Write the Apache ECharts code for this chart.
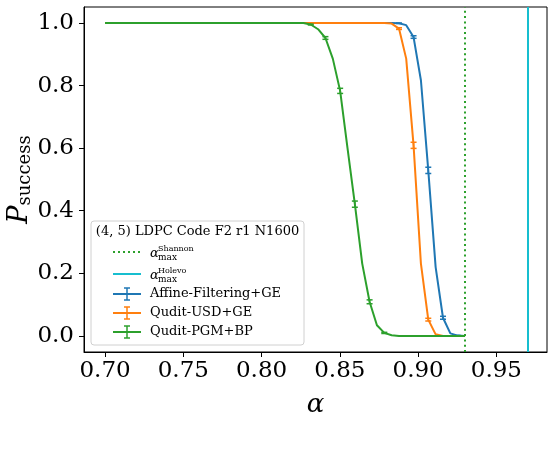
<!DOCTYPE html>
<html>
<head>
<meta charset="utf-8">
<script src="https://cdn.jsdelivr.net/npm/echarts@6/dist/echarts.min.js"></script>
<style>
    html, body { margin: 0; padding: 0; background: #fff; }
    #chart { width: 554px; height: 450px; }
</style>
</head>
<body>
<div id="chart"></div>
<script>
// alpha grid, 50 points from 0.70 to 0.93
const alpha = [
    0.7000, 0.7047, 0.7094, 0.7141, 0.7188, 0.7235, 0.7282, 0.7329, 0.7376, 0.7422,
    0.7469, 0.7516, 0.7563, 0.7610, 0.7657, 0.7704, 0.7751, 0.7798, 0.7845, 0.7892,
    0.7939, 0.7986, 0.8033, 0.8080, 0.8127, 0.8173, 0.8220, 0.8267, 0.8314, 0.8361,
    0.8408, 0.8455, 0.8502, 0.8549, 0.8596, 0.8643, 0.8690, 0.8737, 0.8784, 0.8831,
    0.8878, 0.8924, 0.8971, 0.9018, 0.9065, 0.9112, 0.9159, 0.9206, 0.9253, 0.9300
];
// success probability per decoder
const affineGE = [
    1, 1, 1, 1, 1, 1, 1, 1, 1, 1,
    1, 1, 1, 1, 1, 1, 1, 1, 1, 1,
    1, 1, 1, 1, 1, 1, 1, 1, 1, 1,
    1, 1, 1, 1, 1, 1, 1, 1, 1, 1,
    0.999, 0.993, 0.955, 0.817, 0.529, 0.220, 0.058, 0.008, 0.001, 0
];
const usdGE = [
    1, 1, 1, 1, 1, 1, 1, 1, 1, 1,
    1, 1, 1, 1, 1, 1, 1, 1, 1, 1,
    1, 1, 1, 1, 1, 1, 1, 1, 1, 1,
    1, 1, 1, 1, 1, 1, 1, 1, 1, 0.998,
    0.982, 0.886, 0.609, 0.231, 0.052, 0.005, 0, 0, 0, 0
];
const pgmBP = [
    1, 1, 1, 1, 1, 1, 1, 1, 1, 1,
    1, 1, 1, 1, 1, 1, 1, 1, 1, 1,
    1, 1, 1, 1, 1, 1, 1, 1, 0.995, 0.980,
    0.952, 0.886, 0.783, 0.600, 0.421, 0.231, 0.109, 0.034, 0.0096, 0.002,
    0, 0, 0, 0, 0, 0, 0, 0, 0, 0
];
// error bar half widths
const affineErr = [
    0, 0, 0, 0, 0, 0, 0, 0, 0, 0,
    0, 0, 0, 0, 0, 0, 0, 0, 0, 0,
    0, 0, 0, 0, 0, 0, 0, 0, 0, 0,
    0, 0, 0, 0, 0, 0, 0, 0, 0, 0,
    0.0006, 0, 0.0041, 0, 0.0100, 0, 0.0047, 0, 0.0006, 0
];
const usdErr = [
    0, 0, 0, 0, 0, 0, 0, 0, 0, 0,
    0, 0, 0, 0, 0, 0, 0, 0, 0, 0,
    0, 0, 0, 0, 0, 0, 0, 0, 0, 0,
    0, 0, 0, 0, 0, 0, 0, 0, 0, 0,
    0.0027, 0, 0.0098, 0, 0.0044, 0, 0, 0, 0, 0
];
const pgmErr = [
    0, 0, 0, 0, 0, 0, 0, 0, 0, 0,
    0, 0, 0, 0, 0, 0, 0, 0, 0, 0,
    0, 0, 0, 0, 0, 0, 0, 0, 0.0014, 0,
    0.0043, 0, 0.0082, 0, 0.0099, 0, 0.0062, 0, 0.0019, 0,
    0, 0, 0, 0, 0, 0, 0, 0, 0, 0
];
const shannonAlpha = 0.9287;
const holevoAlpha = 0.9689;
const xTicks = [0.70, 0.75, 0.80, 0.85, 0.90, 0.95];
const yTicks = [0.0, 0.2, 0.4, 0.6, 0.8, 1.0];

const FONT = 'DejaVu Serif';
const BLUE = '#1f77b4', ORANGE = '#ff7f0e', GREEN = '#2ca02c', CYAN = '#17becf';

function lineSeries (name, ys, color, z) {
    return {
        name: name,
        type: 'line',
        data: alpha.map((a, i) => [a, ys[i]]),
        showSymbol: false,
        lineStyle: { color: color, width: 2 },
        itemStyle: { color: color },
        z: z,
        silent: true
    };
}

// error bars on every other point
function errorSeries (ys, errs, color, z) {
    let data = [];
    alpha.forEach((a, i) => {
        if (i % 2 === 0 && errs[i] > 0) {
            data.push([a, ys[i] - errs[i], ys[i] + errs[i]]);
        }
    });
    return {
        type: 'custom',
        data: data,
        encode: { x: 0, y: [1, 2] },
        z: z,
        silent: true,
        renderItem: (params, api) => {
            let lo = api.coord([api.value(0), api.value(1)]);
            let hi = api.coord([api.value(0), api.value(2)]);
            let w = 3;
            let st = { stroke: color, lineWidth: 1.5 };
            return {
                type: 'group',
                children: [
                    { type: 'line', shape: { x1: lo[0], y1: lo[1], x2: hi[0], y2: hi[1] }, style: st },
                    { type: 'line', shape: { x1: lo[0] - w, y1: lo[1], x2: lo[0] + w, y2: lo[1] }, style: st },
                    { type: 'line', shape: { x1: hi[0] - w, y1: hi[1], x2: hi[0] + w, y2: hi[1] }, style: st }
                ]
            };
        }
    };
}

// legend drawn by hand (errorbar handles and stacked sub/superscripts)
function legendGraphics () {
    let els = [];
    let hx1 = 113, hx2 = 141, tx = 150;
    els.push({ type: 'rect', shape: { x: 91, y: 221, width: 213, height: 124, r: 3 },
        style: { fill: 'rgba(255,255,255,0.8)', stroke: '#d0d0d0', lineWidth: 1 } });
    els.push({ type: 'text', x: 197.5, y: 232,
        style: { text: '(4, 5) LDPC Code F2 r1 N1600', font: '13px "DejaVu Serif"', fill: '#000',
            align: 'center', verticalAlign: 'middle' } });
    let bounds = [
        { y: 252, sup: 'Shannon', color: GREEN, dash: [2, 3] },
        { y: 274, sup: 'Holevo', color: CYAN, dash: null }
    ];
    bounds.forEach((b) => {
        els.push({ type: 'line', shape: { x1: hx1, y1: b.y, x2: hx2, y2: b.y },
            style: { stroke: b.color, lineWidth: 2, lineDash: b.dash } });
        els.push({ type: 'text', x: tx, y: b.y + 2,
            style: { text: 'α', font: 'italic 13px "DejaVu Serif"', fill: '#000', verticalAlign: 'middle' } });
        els.push({ type: 'text', x: tx + 8, y: b.y - 3,
            style: { text: b.sup, font: '8px "DejaVu Serif"', fill: '#000', verticalAlign: 'middle' } });
        els.push({ type: 'text', x: tx + 8, y: b.y + 6,
            style: { text: 'max', font: '9px "DejaVu Serif"', fill: '#000', verticalAlign: 'middle' } });
    });
    let entries = [
        { y: 294, label: 'Affine-Filtering+GE', color: BLUE },
        { y: 313, label: 'Qudit-USD+GE', color: ORANGE },
        { y: 332, label: 'Qudit-PGM+BP', color: GREEN }
    ];
    entries.forEach((e) => {
        let cx = (hx1 + hx2) / 2;
        let st = { stroke: e.color, lineWidth: 2 };
        els.push({ type: 'line', shape: { x1: hx1, y1: e.y, x2: hx2, y2: e.y }, style: st });
        els.push({ type: 'line', shape: { x1: cx, y1: e.y - 6, x2: cx, y2: e.y + 6 }, style: { stroke: e.color, lineWidth: 1.5 } });
        els.push({ type: 'line', shape: { x1: cx - 3, y1: e.y - 6, x2: cx + 3, y2: e.y - 6 }, style: { stroke: e.color, lineWidth: 1.5 } });
        els.push({ type: 'line', shape: { x1: cx - 3, y1: e.y + 6, x2: cx + 3, y2: e.y + 6 }, style: { stroke: e.color, lineWidth: 1.5 } });
        els.push({ type: 'text', x: tx, y: e.y,
            style: { text: e.label, font: '13px "DejaVu Serif"', fill: '#000', verticalAlign: 'middle' } });
    });
    return els;
}

let myChart = echarts.init(document.getElementById('chart'), null, { renderer: 'canvas' });
myChart.setOption({
    animation: false,
    backgroundColor: '#fff',
    grid: {
        left: 84,
        right: 7,
        top: 7,
        bottom: 98,
        containLabel: false,
        outerBoundsMode: 'none',
        show: true,
        borderColor: '#000',
        borderWidth: 1,
        backgroundColor: 'transparent'
    },
    xAxis: {
        type: 'value',
        min: 0.68655,
        max: 0.98235,
        name: 'α',
        nameLocation: 'middle',
        nameGap: 40,
        nameMoveOverlap: false,
        nameTextStyle: { fontFamily: FONT, fontStyle: 'italic', fontSize: 26, color: '#000' },
        axisLine: { show: true, onZero: false, lineStyle: { color: '#000', width: 1 } },
        axisTick: { show: true, customValues: xTicks, length: 5, lineStyle: { color: '#000' } },
        axisLabel: {
            customValues: xTicks,
            formatter: (v) => v.toFixed(2),
            fontFamily: FONT,
            fontSize: 23,
            color: '#000',
            margin: 8
        },
        splitLine: { show: false }
    },
    yAxis: {
        type: 'value',
        min: -0.0514,
        max: 1.051,
        name: '{p|P}{s|success}',
        nameLocation: 'middle',
        nameRotate: 90,
        nameGap: 50,
        nameMoveOverlap: false,
        nameTextStyle: {
            color: '#000',
            rich: {
                p: { fontFamily: FONT, fontStyle: 'italic', fontSize: 27, lineHeight: 24, color: '#000', verticalAlign: 'bottom', padding: [0, 0, 1, 0] },
                s: { fontFamily: FONT, fontSize: 18, lineHeight: 18, color: '#000', verticalAlign: 'bottom' }
            }
        },
        axisLine: { show: true, onZero: false, lineStyle: { color: '#000', width: 1 } },
        axisTick: { show: true, customValues: yTicks, length: 5, lineStyle: { color: '#000' } },
        axisLabel: {
            customValues: yTicks,
            formatter: (v) => v.toFixed(1),
            fontFamily: FONT,
            fontSize: 23,
            color: '#000',
            margin: 10
        },
        splitLine: { show: false }
    },
    graphic: legendGraphics(),
    series: [
        {
            type: 'line',
            data: [],
            silent: true,
            markLine: {
                symbol: 'none',
                silent: true,
                label: { show: false },
                data: [
                    { xAxis: shannonAlpha, lineStyle: { color: GREEN, type: [2, 3.3], width: 2 } },
                    { xAxis: holevoAlpha, lineStyle: { color: CYAN, type: 'solid', width: 2 } }
                ]
            }
        },
        lineSeries('Affine-Filtering+GE', affineGE, BLUE, 3),
        errorSeries(affineGE, affineErr, BLUE, 3),
        lineSeries('Qudit-USD+GE', usdGE, ORANGE, 4),
        errorSeries(usdGE, usdErr, ORANGE, 4),
        lineSeries('Qudit-PGM+BP', pgmBP, GREEN, 5),
        errorSeries(pgmBP, pgmErr, GREEN, 5)
    ]
});
</script>
</body>
</html>
